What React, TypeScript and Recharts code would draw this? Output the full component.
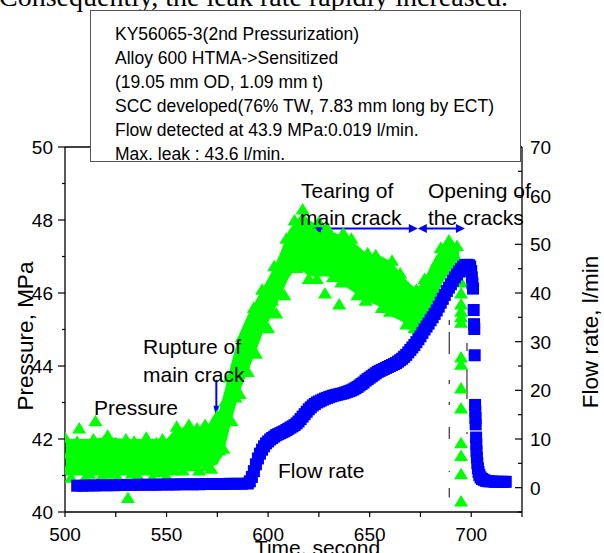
import React from 'react';
import { ComposedChart, Scatter, Area, XAxis, YAxis, ReferenceLine } from 'recharts';

const FONT = '"Liberation Sans", Arial, Helvetica, sans-serif';
const SERIF = '"Liberation Serif", "Times New Roman", serif';
const GREEN = '#00ff00';
const BLUE = '#0000ff';

// axes
const timeTicks = [500, 525, 550, 575, 600, 625, 650, 675, 700, 725];
const pressureTicks = [40, 41, 42, 43, 44, 45, 46, 47, 48, 49, 50];
const flowTicks = [-5, 0, 5, 10, 15, 20, 25, 30, 35, 40, 45, 50, 55, 60, 65, 70];

// pressure, MPa - one reading per second from 500 s
const pressureStart = 500;
const pressure = [
  42.05, 41.17, 41.61, 40.95, 41.83, 41.39, 41.94, 42.3, 41.72, 41.28,
  40.95, 41.83, 41.06, 41.5, 42.0, 42.5, 41.17, 41.72, 40.98, 41.94,
  41.39, 42.1, 41.06, 41.61, 41.28, 41.9, 40.95, 41.8, 41.2, 41.5,
  42.0, 40.4, 41.72, 41.06, 41.94, 41.35, 40.98, 41.83, 41.17, 41.6,
  42.05, 41.28, 41.72, 40.95, 41.5, 41.9, 41.1, 41.65, 42.0, 41.3,
  40.98, 41.83, 41.4, 42.05, 41.15, 42.35, 41.5, 41.99, 41.15, 42.2,
  41.63, 42.4, 41.27, 41.85, 41.4, 42.3, 41.15, 42.0, 41.55, 42.4,
  41.27, 41.8, 41.2, 42.45, 41.65, 42.65, 41.7, 42.4, 41.75, 43.05,
  42.65, 43.7, 42.5, 43.5, 43.15, 44.15, 43.25, 44.8, 44.1, 44.55,
  43.85, 45.05, 44.4, 45.6, 44.35, 45.3, 45.15, 46.1, 45.1, 46.0,
  45.05, 46.0, 45.8, 46.75, 45.45, 46.7, 46.0, 46.65, 45.95, 47.5,
  46.75, 47.45, 46.8, 48.0, 46.7, 47.6, 47.9, 48.3, 46.75, 47.4,
  46.4, 47.7, 47.05, 47.65, 46.4, 47.95, 47.0, 47.3, 46.0, 47.8,
  46.7, 47.25, 46.45, 47.5, 46.95, 45.7, 46.3, 47.65, 46.85, 47.1,
  46.4, 47.5, 46.35, 46.85, 45.95, 47.0, 46.5, 46.9, 45.8, 47.1,
  46.3, 46.55, 46.0, 47.05, 45.95, 46.45, 45.6, 46.7, 46.15, 46.6,
  45.5, 46.9, 45.95, 46.15, 45.6, 46.55, 45.5, 46.0, 45.15, 46.15,
  45.6, 46.0, 45.05, 46.1, 45.45, 45.65, 45.3, 46.4, 45.5, 46.05,
  45.45, 46.5, 46.3, 46.85, 46.0, 47.25, 46.7, 46.95, 46.6, 47.45,
  46.75, 47.15, 46.6, 47.3, 46.85,
];
// readings scattered down the axis when the cracks opened
const pressureDropTime = 695;
const pressureDrop = [46.3, 46.0, 45.7, 45.5, 45.35, 45.2, 44.25, 44.05, 43.4, 42.85, 41.9, 41.55, 41.05, 40.3];

// dense scatter of the recorder: lower / upper bound of the pressure trace
const bandTime = [
  500, 510, 520, 530, 540, 550, 555, 565, 572, 575, 578, 582, 586, 590, 594, 598, 602,
  606, 610, 614, 617, 620, 625, 630, 635, 640, 648, 656, 661, 665, 669, 673, 677, 682,
  686, 690, 694,
];
const bandLow = [
  41.0, 41.0, 41.0, 41.0, 41.0, 41.0, 41.15, 41.2, 41.25, 41.3, 41.6, 42.5, 43.3, 43.85, 44.4, 45.0, 45.4,
  45.9, 46.4, 46.7, 46.6, 46.45, 46.45, 46.45, 46.3, 46.1, 45.8, 45.6, 45.35, 45.25, 45.1, 45.0, 45.2, 45.8,
  46.3, 46.6, 46.6,
];
const bandHigh = [
  42.0, 42.0, 42.05, 42.0, 42.0, 42.0, 42.3, 42.35, 42.4, 42.6, 43.2, 44.1, 44.9, 45.4, 45.8, 46.2, 46.6,
  47.1, 47.7, 48.0, 48.2, 48.0, 47.85, 47.7, 47.6, 47.5, 47.1, 47.0, 46.85, 46.55, 46.3, 46.1, 46.4, 46.95,
  47.3, 47.5, 47.2,
];

// flow rate, l/min
const flowFlatTime = [
  506, 509, 512, 515, 518, 521, 524, 527, 530, 533, 536, 539, 542, 545, 548,
  551, 554, 557, 560, 563, 566, 569, 572, 575, 578, 581, 584, 587, 590,
];
const flowFlat = [
  0.4, 0.4, 0.45, 0.45, 0.5, 0.5, 0.5, 0.55, 0.55, 0.55, 0.6, 0.6, 0.6, 0.6, 0.65,
  0.65, 0.65, 0.7, 0.7, 0.7, 0.7, 0.75, 0.75, 0.75, 0.75, 0.8, 0.8, 0.8, 0.85,
];
const flowRiseStart = 591;
const flowRise = [
  1.3, 2.2, 3.4, 4.8, 6.0, 7.0, 7.8, 8.5, 9.1, 9.5,
  9.9, 10.2, 10.5, 10.8, 11.0, 11.2, 11.4, 11.6, 11.85, 12.1,
  12.35, 12.6, 12.85, 13.2, 13.6, 14.1, 14.6, 15.1, 15.6, 16.1,
  16.5, 16.9, 17.2, 17.5, 17.7, 17.9, 18.1, 18.3, 18.45, 18.6,
  18.75, 18.9, 19.0, 19.1, 19.2, 19.3, 19.4, 19.55, 19.7, 19.85,
  20.0, 20.2, 20.45, 20.7, 21.0, 21.3, 21.6, 22.0, 22.3, 22.6,
  22.9, 23.2, 23.5, 23.8, 24.0, 24.2, 24.4, 24.6, 24.8, 25.0,
  25.2, 25.4, 25.6, 25.9, 26.2, 26.5, 26.9, 27.3, 27.8, 28.3,
  28.8, 29.3, 29.9, 30.5, 31.1, 31.8, 32.5, 33.1, 33.7, 34.4,
  35.0, 35.7, 36.4, 37.2, 38.0, 38.8, 39.6, 40.4, 41.1, 41.8,
  42.5, 43.2, 43.8, 44.4, 44.9, 45.4, 45.7, 45.8, 45.7,
];
const flowDropTime = [
  699.5, 700, 700.3, 700.6, 700.9, 701.2, 701.4, 701.5, 701.7, 701.9, 702.0, 702.1, 702.2,
  702.4, 702.5, 702.6, 702.8, 703.0, 703.3, 703.6, 704.0, 704.6, 705.3, 706.2, 707.2,
  708.5, 710, 711.5, 713, 714.5, 716, 717,
];
const flowDrop = [
  45.4, 44.5, 43.2, 42.0, 40.9, 36.5, 33.6, 32.6, 27.2, 17.0, 15.6, 14.3, 13.0,
  10.3, 8.9, 7.5, 6.2, 5.0, 4.0, 3.2, 2.6, 2.1, 1.8, 1.6, 1.4,
  1.3, 1.3, 1.2, 1.2, 1.2, 1.2, 1.2,
];

const boxLines = [
  'KY56065-3(2nd Pressurization)',
  'Alloy 600 HTMA->Sensitized',
  '(19.05 mm OD, 1.09 mm t)',
  'SCC developed(76% TW, 7.83 mm long by ECT)',
  'Flow detected at 43.9 MPa:0.019 l/min.',
  'Max. leak : 43.6 l/min.',
];

const pressurePoints = [
  ...pressure.map((y, i) => ({ x: pressureStart + i, y })),
  ...pressureDrop.map((y) => ({ x: pressureDropTime, y })),
];
const bandPoints = bandTime.map((x, i) => ({ x, band: [bandLow[i], bandHigh[i]] }));
const flowPoints = [
  ...flowFlat.map((y, i) => ({ x: flowFlatTime[i], y })),
  ...flowRise.map((y, i) => ({ x: flowRiseStart + i, y })),
  ...flowDrop.map((y, i) => ({ x: flowDropTime[i], y })),
];

const Triangle = (p: any) => (
  <polygon
    points={`${p.cx},${p.cy - 6} ${p.cx - 7},${p.cy + 5.5} ${p.cx + 7},${p.cy + 5.5}`}
    fill={GREEN}
  />
);

const Square = (p: any) => <rect x={p.cx - 6} y={p.cy - 6} width={12} height={12} fill={BLUE} />;

const LeftTick = (props: any) => {
  const { x, y, payload } = props;
  const major = payload.value % 2 === 0;
  const ax = x + 12;
  return (
    <g>
      <line x1={ax} x2={ax - (major ? 7 : 3)} y1={y} y2={y} stroke="#000" strokeWidth={1.2} />
      {major && (
        <text x={x} y={y} dy="0.36em" textAnchor="end" fontSize={19} fontFamily={FONT} fill="#000">
          {payload.value}
        </text>
      )}
    </g>
  );
};

const RightTick = (props: any) => {
  const { x, y, payload } = props;
  const major = payload.value % 10 === 0;
  const ax = x - 8;
  return (
    <g>
      <line x1={ax} x2={ax - (major ? 7 : 4)} y1={y} y2={y} stroke="#000" strokeWidth={1.2} />
      {major && (
        <text x={x} y={y} dy="0.36em" textAnchor="start" fontSize={19} fontFamily={FONT} fill="#000">
          {payload.value}
        </text>
      )}
    </g>
  );
};

// blue arrow drawn along a reference segment, head at the end (and start if both)
const arrow = (both: boolean, len: number, half: number) => (p: any) => {
  const { x1, y1, x2, y2 } = p;
  const d = Math.hypot(x2 - x1, y2 - y1) || 1;
  const ux = (x2 - x1) / d;
  const uy = (y2 - y1) / d;
  const head = (tx: number, ty: number, sx: number, sy: number) => {
    const bx = tx - sx * len;
    const by = ty - sy * len;
    return `${tx},${ty} ${bx - sy * half},${by + sx * half} ${bx + sy * half},${by - sx * half}`;
  };
  return (
    <g>
      <line
        x1={both ? x1 + ux * len * 0.8 : x1}
        y1={both ? y1 + uy * len * 0.8 : y1}
        x2={x2 - ux * len * 0.8}
        y2={y2 - uy * len * 0.8}
        stroke={BLUE}
        strokeWidth={2}
      />
      <polygon points={head(x2, y2, ux, uy)} fill={BLUE} />
      {both && <polygon points={head(x1, y1, -ux, -uy)} fill={BLUE} />}
    </g>
  );
};

const textStyle = { fontFamily: FONT, fontSize: 21, fill: '#000' };

export default function App() {
  return (
    <div style={{ position: 'absolute', left: 0, top: 0, width: 604, height: 553, background: '#fff', overflow: 'hidden' }}>
      <ComposedChart width={604} height={553} margin={{ top: 147, right: 22, bottom: 0, left: 5 }}>
        <XAxis
          type="number"
          dataKey="x"
          domain={[500, 725]}
          ticks={timeTicks}
          interval={0}
          allowDataOverflow
          height={41}
          tickSize={5}
          tickMargin={11}
          axisLine={{ stroke: '#000', strokeWidth: 1.3 }}
          tickLine={{ stroke: '#000', strokeWidth: 1.2 }}
          tick={{ fill: '#000', fontSize: 19, fontFamily: FONT }}
          tickFormatter={(v: number) => (v % 50 === 0 ? String(v) : '')}
        />
        <YAxis
          yAxisId="p"
          orientation="left"
          type="number"
          dataKey="y"
          domain={[40, 50]}
          ticks={pressureTicks}
          interval={0}
          width={60}
          tickSize={0}
          tickMargin={12}
          tickLine={false}
          axisLine={{ stroke: '#000', strokeWidth: 1.3 }}
          tick={(p: any) => <LeftTick {...p} />}
        />
        <YAxis
          yAxisId="f"
          orientation="right"
          type="number"
          dataKey="y"
          domain={[-5, 70]}
          ticks={flowTicks}
          interval={0}
          width={60}
          tickSize={0}
          tickMargin={8}
          tickLine={false}
          axisLine={{ stroke: '#000', strokeWidth: 1.3 }}
          tick={(p: any) => <RightTick {...p} />}
        />
        <ReferenceLine yAxisId="p" y={50} stroke="#000" strokeWidth={1.3} />
        <Area
          yAxisId="p"
          data={bandPoints}
          dataKey="band"
          type="linear"
          stroke="none"
          fill={GREEN}
          fillOpacity={1}
          dot={false}
          activeDot={false}
          isAnimationActive={false}
        />
        <Scatter yAxisId="p" data={pressurePoints} shape={Triangle} isAnimationActive={false} />
        <ReferenceLine
          yAxisId="p"
          segment={[{ x: 689.2, y: 45.26 }, { x: 689.2, y: 40.4 }]}
          stroke="#444"
          strokeWidth={1.3}
          strokeDasharray="5 7 22 26 4 18 3 22 12 32 1 16 13"
        />
        <ReferenceLine
          yAxisId="p"
          segment={[{ x: 697.9, y: 44.63 }, { x: 697.9, y: 42.1 }]}
          stroke="#444"
          strokeWidth={1.3}
          strokeDasharray="8 18 30 33 2 100"
        />
        <Scatter yAxisId="f" data={flowPoints} shape={Square} isAnimationActive={false} />
        <ReferenceLine
          yAxisId="p"
          segment={[{ x: 621.7, y: 47.77 }, { x: 673.7, y: 47.77 }]}
          shape={arrow(true, 9, 4.5)}
        />
        <ReferenceLine
          yAxisId="p"
          segment={[{ x: 673.7, y: 47.77 }, { x: 696.9, y: 47.77 }]}
          shape={arrow(true, 9, 4.5)}
        />
        <ReferenceLine
          yAxisId="p"
          segment={[{ x: 574.5, y: 43.62 }, { x: 574.5, y: 42.58 }]}
          shape={arrow(false, 12, 2.8)}
        />
      </ComposedChart>

      <svg width={604} height={553} style={{ position: 'absolute', left: 0, top: 0, pointerEvents: 'none' }}>
        <text x={-1} y={6} fontFamily={SERIF} fontSize={28} fill="#000">
          Consequently, the leak rate rapidly increased.
        </text>
        <rect x={90.5} y={10.5} width={430} height={151} fill="#fff" stroke="#555" strokeWidth={1} />
        {boxLines.map((t, i) => (
          <text key={i} x={115} y={39.5 + 24 * i} fontFamily={FONT} fontSize={17.5} fill="#000">
            {t}
          </text>
        ))}

        <text style={textStyle} x={143} y={354}>Rupture of</text>
        <text style={textStyle} x={143} y={382}>main crack</text>
        <text style={textStyle} x={94} y={415}>Pressure</text>
        <text style={textStyle} x={278} y={477.5}>Flow rate</text>
        <text style={textStyle} x={301} y={197.5}>Tearing of</text>
        <text style={textStyle} x={300} y={225}>main crack</text>
        <text style={textStyle} x={428} y={197.5}>Opening of</text>
        <text style={textStyle} x={428} y={225}>the cracks</text>

        <text transform="translate(32.5,336) rotate(-90)" textAnchor="middle" fontFamily={FONT} fontSize={22.5} fill="#000">
          Pressure, MPa
        </text>
        <text transform="translate(597.5,332) rotate(-90)" textAnchor="middle" fontFamily={FONT} fontSize={22.5} fill="#000">
          Flow rate, l/min
        </text>
        <text x={317.5} y={555} textAnchor="middle" fontFamily={FONT} fontSize={21} fill="#000">
          Time, second
        </text>
      </svg>
    </div>
  );
}
